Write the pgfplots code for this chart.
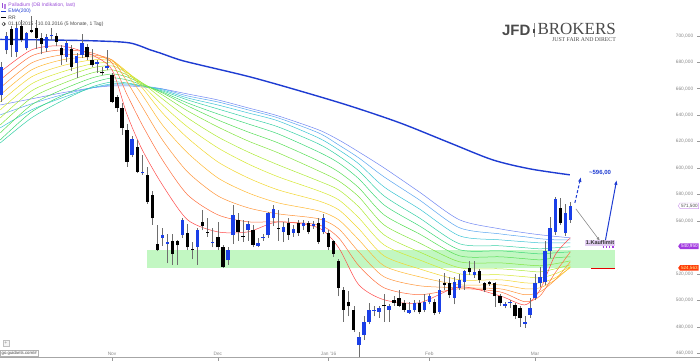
\documentclass[border=0pt]{standalone}
\usepackage{pgfplots}
\pgfplotsset{compat=1.18}
\usepackage{pgfplotstable}
\usepackage{fontspec}
\setmainfont{Liberation Sans}
\newfontfamily\seriffont{Liberation Serif}
\usetikzlibrary{shapes.symbols, arrows.meta}

\definecolor{candleblue}{HTML}{1A3FE8}
\definecolor{emablue}{HTML}{1E3CD2}
\definecolor{bandgreen}{HTML}{C2F7C2}
\definecolor{tagpurple}{HTML}{A23AE0}
\definecolor{tagred}{HTML}{FF3A0A}
\definecolor{legpurple}{HTML}{9B4FD8}
\definecolor{ticklab}{HTML}{8A8A8A}
\definecolor{wick}{HTML}{6E6E6E}
\definecolor{logogray}{HTML}{4A4A4A}
\definecolor{kaufbg}{HTML}{E2CDF2}
\definecolor{r1}{HTML}{FF4A4A}
\definecolor{r2}{HTML}{FF6E3D}
\definecolor{r3}{HTML}{FF9438}
\definecolor{r4}{HTML}{FFB833}
\definecolor{r5}{HTML}{F2D62E}
\definecolor{r6}{HTML}{D6E830}
\definecolor{r7}{HTML}{ADEA35}
\definecolor{r8}{HTML}{82E440}
\definecolor{r9}{HTML}{55DE55}
\definecolor{r10}{HTML}{3CD877}
\definecolor{r11}{HTML}{35D0A5}
\definecolor{r12}{HTML}{3CC4D4}
\definecolor{r13}{HTML}{5AA6F0}
\definecolor{r14}{HTML}{6E86F2}

\pgfplotstableread{
i o h l c
0 655 680 650 676
1 689 703 686 700
3 688 710 684 706
5 690.5 703 689 702
9 691 701 688 699
10 699.5 706 697 700.5
13 684 697 680 694.5
15 679.4 687 668 684.7
16 685.5 701 683 694.5
19 678.4 682 672 680.4
21 675.4 689 674 677.3
26 610 624 608 621.8
28 596 610 595 597
32 547.5 555 541 549.5
33 542.5 550 528 544
36 549.6 562 547 561
39 540.5 555 527 553
42 543.5 555 540 544.5
45 530.5 540 527 538
46 549.5 572 543 564.6
49 553.3 560 545 558
51 541.5 547 540 543.5
52 547.5 550 545 548
53 549.5 567 547 566
54 562 572 556 569
56 552 559 544 555.5
58 551 557 548 554
60 556 561 553 558.5
62 556.3 560 554 557.7
64 552 565 550 562.4
71 466.5 476 457 472
72 474 488 470 484
73 484 498 482 493
74 492 496 488 493
75 491.6 496 487 494.6
77 493 497 484 496
81 490.7 499 490 493
82 493 500 491 498
84 493 505 491 499
85 499 505 497 503.5
87 491.6 516 490 508
90 502 518 497 514
91 509.5 520 508 515.6
92 514.3 523 508 522
94 519.3 530 517 521.7
100 496 498.5 494 497.3
101 497.7 500 494 499
104 482.5 488 479 483.5
105 489 502 487 494.4
106 502 520 500 513
107 513 525 510 518
108 514.3 545 512 537
109 537 563 532 554.6
110 552 578.5 549.5 576.5
112 550.8 573 549 566
113 560.8 574.5 558.6 571.5
}\upcandles

\pgfplotstableread{
i o h l c
2 705 707 684 693
4 707 712 695 697
6 704 715 702 703
7 706 712 690 698
8 698 702 686 694
11 700 702 692 695.5
12 691 693 678 685.5
14 690 693 673 676.5
17 691.7 694 682 684
18 681.7 690 676 678
20 672.8 676 670 671.6
22 670.3 671.5 649 650.2
23 654 655 642.5 645.2
24 645.2 649 625 630
25 628.8 633 601 604.9
27 616 621 596 597.3
29 594.8 601 573 574.7
30 579.7 583 557 562
31 543 557 537 538
34 545 550 527 535
35 545 546 527 541.6
37 551 558 538 540
38 538.5 544 531 538
40 559 568 553 556
41 552 562 548 551
43 548 559 538 540
44 540.5 542 524.5 525.5
47 561 566 545 552
48 549 561 544 548.5
50 553 557 540 542
55 555 568 545 554
57 558.5 562 546 549.5
59 558.5 561 549 551
61 558.5 560 550 552
63 558.5 562 543 544.2
65 551 553 538 540.5
66 545 546 533 535
67 529.5 531 503 509.5
68 508 510 484 493
69 498.5 507 488 495.5
70 493 496 476 478
76 496.5 505 484 495.5
78 500 503 496 498
79 502 508 495 496
80 498 500 491 493
83 498 500 490 491
86 499 501 489 490.7
88 513 521 508 511.5
89 513 518 502 504
93 524.6 530 519 521.7
95 522 524 513 515.6
96 513 514 506 508
97 514.3 515 511 512.5
98 513 514 495 503
99 503.5 505 496 498.4
102 496.7 498 486 488
103 494.4 495.5 480 486.8
111 569.7 577.5 557 558.4
}\downcandles

\pgfplotstableread{
i k1 k2 k3 k4 k5 k6 k7 k8 k9 k10 k11 k12 k13 k14
-0.2 672.6 666.6 660.6 655.3 650.0 644.0 637.9 632.6 626.6 621.3 619.0 630.4 640.2 647.7
6 689.3 684.7 679.4 674.2 668.9 663.6 658.3 653.0 647.7 642.4 637.9 644.0 648.5 652.3
12 692.3 689.3 685.5 681.7 677.2 672.6 668.1 663.6 659.1 654.5 650.7 653.0 655.3 656.8
18 685.5 687.0 685.5 684.0 681.7 678.7 675.7 671.9 668.1 664.3 661.3 660.6 660.6 660.6
22 674.2 679.4 681.7 681.7 680.9 679.4 677.2 674.2 671.1 668.1 665.1 663.6 662.8 662.1
25 640.2 655.3 665.1 670.4 672.6 672.6 671.9 670.4 668.9 666.6 664.3 663.6 662.8 662.1
28 613.8 632.6 646.2 655.3 660.6 662.8 664.3 664.3 663.6 662.8 662.1 662.1 662.1 661.3
32 587.3 606.2 621.3 632.6 641.7 647.7 652.3 655.3 656.8 657.5 658.3 659.1 659.8 659.8
37 560.9 579.8 597.1 611.5 622.8 631.1 637.9 643.2 647.0 649.2 651.5 653.0 654.5 656.0
43 551.8 564.7 579.0 592.6 604.7 615.3 623.6 631.1 636.4 640.9 644.7 647.7 650.0 651.5
49 551.8 559.4 570.0 581.3 592.6 603.2 612.2 620.5 627.3 633.4 637.9 641.7 644.0 645.5
55 559.4 559.4 565.4 573.7 583.5 593.4 602.4 611.5 619.0 625.8 631.1 635.6 637.9 639.4
63 554.9 557.1 561.7 567.7 575.2 582.8 590.3 597.9 605.4 612.2 618.3 622.8 626.6 628.9
67 539.8 547.3 554.1 560.9 568.5 576.0 583.5 590.3 597.1 603.9 609.2 613.8 617.5 621.3
71 511.8 526.2 536.7 545.8 554.1 562.4 570.7 578.3 585.1 591.9 597.9 603.2 607.7 612.2
76 500.5 509.6 517.9 526.2 533.7 542.0 549.6 557.1 564.7 572.2 579.0 585.8 593.4 600.2
83 498.2 504.3 511.1 517.9 523.9 530.7 536.7 543.5 550.3 556.4 562.4 569.2 576.0 582.0
91 510.3 508.8 509.6 511.8 515.6 520.1 524.7 529.2 533.7 538.3 542.8 548.8 554.9 560.9
99 503.5 506.5 508.8 511.8 515.6 519.4 523.9 528.4 533.0 537.5 541.3 545.8 550.3 554.1
104 496.7 499.0 504.3 508.8 513.3 517.9 522.4 526.9 531.5 536.0 539.8 544.3 548.1 551.1
107 508.1 503.5 506.5 509.6 513.3 517.1 521.6 526.2 530.7 535.2 539.0 543.5 546.6 549.6
110 534.5 520.9 515.6 515.6 517.1 520.1 523.9 527.7 532.2 536.0 539.8 543.5 545.8 548.4
113 547.3 536.7 529.2 525.4 524.7 525.4 526.9 529.9 533.0 536.7 540.5 543.5 545.8 547.3
}\ribbon

\pgfplotstableread{
i v
-0.2 697.2
9.7 696.8
19.6 696.0
25.6 694.5
29.6 689.3
31.5 687.0
35.5 681.7
39.5 677.9
49.4 668.9
59.3 658.3
69.2 647.0
79.2 634.1
89.1 619.0
97.6 606.2
105 599.4
112.9 594.9
}\emaslow

\begin{document}
\begin{tikzpicture}
\begin{axis}[
  scale only axis, width=700pt, height=358pt,
  xmin=-0.2, xmax=138.7, ymin=456.7, ymax=727,
  axis x line*=bottom, axis y line*=right,
  x axis line style={draw=black!35, line width=0.5pt},
  y axis line style={draw=none},
  tick align=inside, major tick length=3pt,
  xtick={22,43,65,85,106},
  xticklabels={Nov,Dec,Jan '16,Feb,Mar},
  ytick={460,480,500,520,560,580,600,620,640,660,680,700},
  yticklabels={{460,000},{480,000},{500,000},{520,000},{560,000},{580,000},{600,000},{620,000},{640,000},{660,000},{680,000},{700,000}},
  x tick style={draw=black!40, line width=0.4pt, yshift=-3pt},
  y tick style={draw=black!40, line width=0.4pt},
  xticklabel style={anchor=south, yshift=-1pt, font=\fontsize{4.8}{5.5}\selectfont, text=ticklab},
  yticklabel style={anchor=east, xshift=-3pt, font=\fontsize{4.8}{5.5}\selectfont, text=ticklab},
  clip mode=individual,
  /pgf/number format/assume math mode=true,
]
% support band
\addplot[draw=none, fill=bandgreen, forget plot] coordinates {(29,524.6) (121.8,524.6) (121.8,538.2) (29,538.2)} -- cycle;

% rainbow ribbon
\pgfplotsinvokeforeach{14,13,...,1}{
  \addplot[r#1, line width=0.5pt, smooth, tension=0.45, forget plot] table[x=i, y=k#1] \ribbon;
}
% EMA 200
\addplot[emablue, line width=1.4pt, smooth, tension=0.5, forget plot] table[x=i, y=v] \emaslow;

% wicks
\addplot[draw=none, forget plot, error bars/.cd, y dir=plus, y explicit, error mark=none,
  error bar style={draw=wick, line width=0.55pt}]
  table[x=i, y=l, y error plus expr={\thisrow{h}-\thisrow{l}}] \upcandles;
\addplot[draw=none, forget plot, error bars/.cd, y dir=plus, y explicit, error mark=none,
  error bar style={draw=wick, line width=0.55pt}]
  table[x=i, y=l, y error plus expr={\thisrow{h}-\thisrow{l}}] \downcandles;
% bodies
\addplot[draw=none, forget plot, error bars/.cd, y dir=plus, y explicit, error mark=none,
  error bar style={draw=candleblue, line width=3.4pt}]
  table[x=i, y=o, y error plus expr={\thisrow{c}-\thisrow{o}}] \upcandles;
\addplot[draw=none, forget plot, error bars/.cd, y dir=plus, y explicit, error mark=none,
  error bar style={draw=black, line width=3.4pt}]
  table[x=i, y=c, y error plus expr={\thisrow{o}-\thisrow{c}}] \downcandles;

% limit lines
\addplot[red!90!black, line width=1.2pt, forget plot] coordinates {(117.1,523.9) (121.8,523.9)};
\addplot[tagpurple, line width=1.3pt, dotted, forget plot] coordinates {(119.4,540.4) (121.8,540.4)};

% annotations
\draw[black!45, line width=0.6pt, -{Latex[length=4pt,width=3pt]}] (axis cs:114.1,569.2) -- (axis cs:118.9,544.8);
\draw[emablue, line width=1pt, dash pattern=on 3pt off 2pt, -{Latex[length=5pt,width=3.5pt]}] (axis cs:113.9,573.7) -- (axis cs:115.1,593.4);
\draw[emablue, line width=1pt, -{Latex[length=5pt,width=3.5pt]}] (axis cs:119.8,542.0) -- (axis cs:122.2,591.1);
\node[text=emablue, font=\bfseries\fontsize{6}{7}\selectfont, inner sep=0pt] at (axis cs:118.9,596.4) {\textasciitilde596,00};
\node[fill=kaufbg, inner sep=1pt, font=\bfseries\fontsize{5.5}{6}\selectfont, text=black!80] at (axis cs:118.9,543.4) {1.Kauflimit};

% price tags
\node[signal, signal to=west, signal pointer angle=110, draw=tagpurple!50, fill=white, line width=0.4pt, inner sep=0.9pt, anchor=east, font=\fontsize{4.6}{5}\selectfont, text=black!70] at (axis cs:138.5,571.5) {571,500};
\node[signal, signal to=west, signal pointer angle=110, fill=tagpurple, inner sep=0.9pt, anchor=east, font=\fontsize{4.6}{5}\selectfont, text=white] at (axis cs:138.5,540.95) {540,950};
\node[signal, signal to=west, signal pointer angle=110, fill=tagred, inner sep=0.9pt, anchor=east, font=\fontsize{4.6}{5}\selectfont, text=yellow!40] at (axis cs:138.5,524.56) {524,563};

% legend block
\fill[legpurple] (rel axis cs:0.0021,0.9790) rectangle (rel axis cs:0.0043,0.9930);
\fill[legpurple!70] (rel axis cs:0.0057,0.9760) rectangle (rel axis cs:0.0079,0.9880);
\node[anchor=west, inner sep=0pt, font=\fontsize{5}{6}\selectfont, text=legpurple] at (rel axis cs:0.0114,0.9855) {Palladium (DB Indikation, last)};
\draw[emablue, line width=1.2pt] (rel axis cs:0.0014,0.9674) -- (rel axis cs:0.0086,0.9674);
\node[anchor=west, inner sep=0pt, font=\fontsize{5}{6}\selectfont, text=emablue] at (rel axis cs:0.0114,0.9674) {EMA(200)};
\draw[black, line width=1.2pt] (rel axis cs:0.0014,0.9511) -- (rel axis cs:0.0086,0.9511);
\node[anchor=west, inner sep=0pt, font=\fontsize{5}{6}\selectfont, text=black!75] at (rel axis cs:0.0114,0.9511) {RR};
\draw[black!70, line width=0.4pt] (rel axis cs:0.0050,0.9330) circle (1.8pt);
\draw[black!70, line width=0.35pt] (rel axis cs:0.0050,0.9330) -- ++(0pt,1.2pt);
\draw[black!70, line width=0.35pt] (rel axis cs:0.0050,0.9330) -- ++(0.9pt,0pt);
\node[anchor=west, inner sep=0pt, font=\fontsize{5}{6}\selectfont, text=black!70] at (rel axis cs:0.0114,0.9330) {01.10.2015 - 10.03.2016 (5 Monate, 1 Tag)};

% logo
\node[anchor=base west, inner sep=0pt, font=\bfseries\fontsize{15}{15}\selectfont, text=logogray] at (rel axis cs:0.7171,0.8994) {JFD};
\draw[logogray!60, line width=0.5pt] (rel axis cs:0.7628,0.8966) -- (rel axis cs:0.7628,0.9358);
\fill[logogray] (rel axis cs:0.7614,0.9080) rectangle (rel axis cs:0.7643,0.9190);
\node[anchor=base west, inner sep=0pt, font=\seriffont\fontsize{17}{17}\selectfont, text=logogray] at (rel axis cs:0.7678,0.9022) {BROKERS};
\node[anchor=base west, inner sep=0pt, font=\seriffont\fontsize{5.8}{6}\selectfont, text=logogray] at (rel axis cs:0.7886,0.8827) {JUST FAIR AND DIRECT};

% footer widgets
\node[draw=black!25, fill=black!4, minimum size=6pt, inner sep=0pt, font=\fontsize{5}{5}\selectfont, text=black!45] at (rel axis cs:0.0079,0.0419) {+};
\node[draw=black!30, fill=white, anchor=south west, inner sep=1.2pt, font=\fontsize{4.3}{5}\selectfont, text=black!75] at (rel axis cs:0,0.0028) {go.guidants.com/\#};
\end{axis}
\end{tikzpicture}
\end{document}
